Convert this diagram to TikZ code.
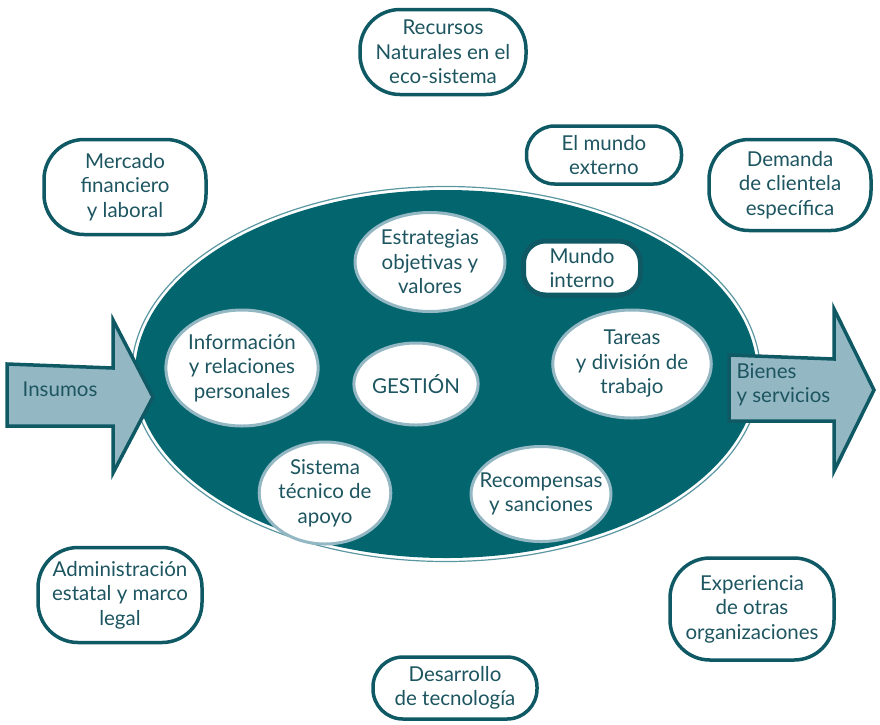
\documentclass[tikz,border=0pt]{standalone}
\usepackage{fontspec}
\setmainfont{Lato}
\usetikzlibrary{shapes.geometric}
\definecolor{tealdark}{HTML}{03666F}
\definecolor{tealline}{HTML}{0E5964}
\definecolor{teallight}{HTML}{93B8C3}
\definecolor{tealtext}{HTML}{1D5560}

\begin{document}
\begin{tikzpicture}[
    x=1pt, y=-1pt,
    every node/.style={text=tealtext, font=\fontsize{20.5}{24.5}\selectfont, align=center},
    outerbox/.style={rectangle, rounded corners=40pt, draw=tealline, line width=3.5pt, fill=white, inner sep=0pt},
    innerell/.style={ellipse, draw=teallight, line width=3pt, fill=white, inner sep=0pt},
    flowarrow/.style={draw=tealline, line width=3.5pt, fill=teallight, line join=miter}
]
\useasboundingbox (0,0) rectangle (880,724);

% organisation
\fill[tealdark] (446,374) ellipse [x radius=311, y radius=184];
\draw[teallight!60!tealdark, line width=1.2pt] (446,374) ellipse [x radius=314.5, y radius=187.5];

% input and output
\draw[flowarrow] (7,364) -- (113,368) -- (113,320) -- (153,397) -- (113,473) -- (113,426) -- (7,426) -- cycle;
\node (insumos) at (60,389) {Insumos};
\draw[flowarrow] (729,355) -- (834,359) -- (834,309) -- (874,390) -- (834,471) -- (834,421) -- (729,421) -- cycle;
\node[anchor=west, align=left] (bienes) at (733,385) {Bienes\\y servicios};

% inner world
\node[innerell, minimum width=150, minimum height=99] (estrategias) at (430,262) {Estrategias\\objetivas y\\valores};
\node[rectangle, rounded corners=22pt, draw=tealline, line width=5pt, fill=white, minimum width=117, minimum height=54] (interno) at (582,268) {Mundo\\interno};
\node[innerell, minimum width=150, minimum height=116] (informacion) at (242,368) {Información\\y relaciones\\personales};
\node[innerell, minimum width=122, minimum height=82] (gestion) at (416,384) {GESTIÓN};
\node[innerell, minimum width=152, minimum height=108] (tareas) at (632,364) {Tareas\\y división de\\trabajo};
\node[innerell, minimum width=126, minimum height=102] (sistema) at (325,493) {Sistema\\técnico de\\apoyo};
\node[innerell, inner xsep=-12pt, minimum width=140, minimum height=95] (recompensas) at (541,494) {Recompensas\\y sanciones};

% outer world
\node[outerbox, minimum width=166, minimum height=85] (recursos) at (443,52) {Recursos\\Naturales en el\\eco-sistema};
\node[outerbox, rounded corners=28pt, minimum width=155, minimum height=58] (externo) at (604,155) {El mundo\\externo};
\node[outerbox, minimum width=162, minimum height=91] (demanda) at (790,185) {Demanda\\de clientela\\específica};
\node[outerbox, minimum width=162, minimum height=95] (mercado) at (125,187) {Mercado\\financiero\\y laboral};
\node[outerbox, minimum width=164, minimum height=95] (administracion) at (120,595) {Administración\\estatal y marco\\legal};
\node[outerbox, minimum width=164, minimum height=102] (experiencia) at (752,609) {Experiencia\\de otras\\organizaciones};
\node[outerbox, rounded corners=30pt, minimum width=164, minimum height=62] (desarrollo) at (455,688) {Desarrollo\\de tecnología};

\end{tikzpicture}
\end{document}
